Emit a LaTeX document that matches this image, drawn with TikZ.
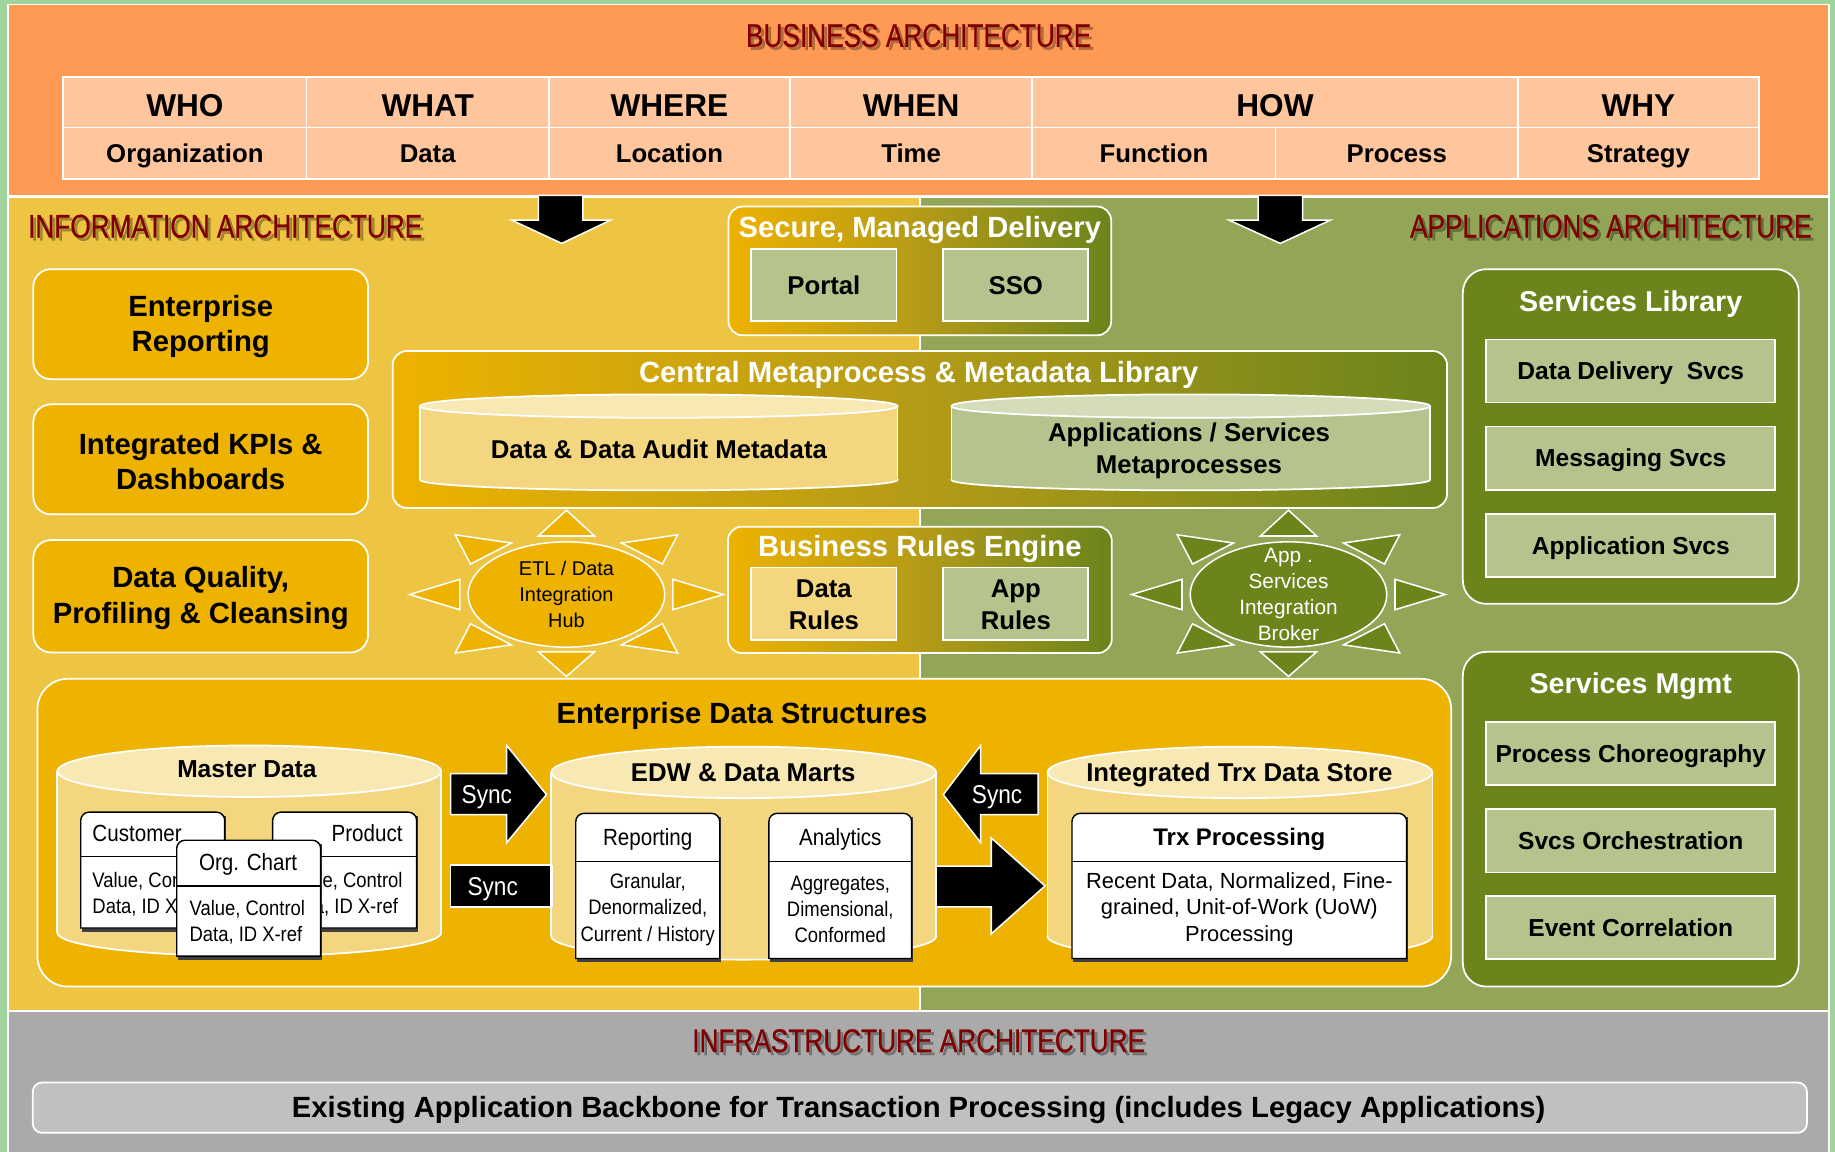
\documentclass[tikz,border=0pt]{standalone}
\usepackage{fontspec}
\setmainfont{Liberation Sans}
\newfontfamily\nar[FakeStretch=0.88]{Liberation Sans}
\newfontfamily\ttl[FakeStretch=0.80,FakeBold=0.6]{Liberation Sans}
\definecolor{cBg}{HTML}{A0D49C}
\definecolor{cOrange}{HTML}{FF9A55}
\definecolor{cPeach}{HTML}{FFC59C}
\definecolor{cYellow}{HTML}{EEC443}
\definecolor{cGreenBg}{HTML}{93A657}
\definecolor{cGold}{HTML}{EEB200}
\definecolor{cOlive}{HTML}{6B841C}
\definecolor{cMid}{HTML}{B49B17}
\definecolor{cLG}{HTML}{B5C48D}
\definecolor{cLGtop}{HTML}{D4DCBA}
\definecolor{cLY}{HTML}{F3D67F}
\definecolor{cLYtop}{HTML}{F8E8B4}
\definecolor{cGray}{HTML}{AAAAAA}
\definecolor{cBar}{HTML}{C0C0C0}
\definecolor{cRed}{HTML}{7F0000}
\tikzset{
  capc/.style={text height=#1, text depth=0pt},
  wb/.style={draw=white, line width=1.5pt},
  goldbox/.style={wb, fill=cGold, rounded corners=15pt},
  olivebox/.style={wb, fill=cOlive, rounded corners=20pt},
  gradbox/.style={wb, rounded corners=12pt, left color=cGold, right color=cOlive, middle color=cMid},
  lgbox/.style={wb, fill=cLG},
  lybox/.style={wb, fill=cLY},
  topcell/.style={draw=white, line width=1.3pt, fill=cPeach, anchor=north west, minimum height=43pt, capc=24.4pt, font=\bfseries\fontsize{27}{30}\selectfont},
  botcell/.style={draw=white, line width=1.3pt, fill=cPeach, anchor=north west, minimum height=44pt, capc=15.8pt, font=\bfseries\fontsize{22}{25}\selectfont},
  redtitle/.style={text=cRed, capc=20pt, font=\ttl\fontsize{28}{30}\selectfont},
  redshadow/.style={text=black, opacity=0.3, capc=20pt, font=\ttl\fontsize{28}{30}\selectfont},
  blkarrow/.style={fill=black, draw=white, line width=1.3pt, line join=miter},
  sunray/.style={fill=#1, draw=white, line width=1.3pt, line join=miter},
  whitetitle/.style={text=white, capc=17.9pt, font=\bfseries\fontsize{25}{28}\selectfont},
  lefttxt/.style={align=center, font=\bfseries\fontsize{25}{30.5}\selectfont},
  boxtxt/.style={align=center, font=\bfseries\fontsize{22}{27}\selectfont},
  svctxt/.style={capc=15pt, font=\bfseries\fontsize{21}{24}\selectfont},
  synctxt/.style={text=white, capc=15.8pt, font=\nar\fontsize{22}{24}\selectfont},
  cardhead/.style={capc=14.3pt, font=\nar\fontsize{20}{23}\selectfont},
  cardbody/.style={align=center, font=\nar\fontsize{17.9}{22.5}\selectfont},
  cardbodyl/.style={align=left, font=\nar\fontsize{17.9}{21.5}\selectfont},
  cardline/.style={capc=12.8pt, font=\nar\fontsize{17.9}{21.5}\selectfont},
  cardframe/.style={fill=white, draw=black, line width=1.2pt},
  cardshadow/.style={fill=black!75},
}
\newcommand\cyl[8]{%
  \pgfmathsetmacro\cycx{(#1+#2)/2}%
  \pgfmathsetmacro\cyrx{(#2-#1)/2}%
  \filldraw[fill=#7, draw=white, line width=1.5pt] (\cycx,#4) ellipse [x radius=\cyrx, y radius=#6];
  \fill[#7] (#1,#3) rectangle (#2,#4);
  \draw[white, line width=1.5pt] (#1,#3) -- (#1,#4) (#2,#3) -- (#2,#4);
  \filldraw[fill=#8, draw=white, line width=1.5pt] (\cycx,#3) ellipse [x radius=\cyrx, y radius=#5];
}
\newcommand\card[5]{%
  \fill[cardshadow] (#1+1,#2+3) rectangle (#3+1,#4+3);
  \filldraw[cardframe] (#1,#4) [rounded corners=7pt] -- (#1,#2) -- (#3,#2) [sharp corners] -- (#3,#4) -- cycle;
  \draw[black, line width=1.2pt] (#1,#5) -- (#3,#5);
}
\newcommand\sunshape[3]{%
  \begin{scope}[shift={(#1,#2)}]
    \filldraw[sunray=#3] (0,-72) -- (24,-50) -- (-24,-50) -- cycle;
    \filldraw[sunray=#3] (0,70) -- (24,49) -- (-24,49) -- cycle;
    \filldraw[sunray=#3] (-134,0) -- (-91,-13) -- (-91,13) -- cycle;
    \filldraw[sunray=#3] (134,0) -- (91,-13) -- (91,13) -- cycle;
    \filldraw[sunray=#3] (-95,-51) -- (-47,-44) -- (-82,-26) -- cycle;
    \filldraw[sunray=#3] (95,-51) -- (47,-44) -- (82,-26) -- cycle;
    \filldraw[sunray=#3] (-95,50) -- (-47,43) -- (-82,25) -- cycle;
    \filldraw[sunray=#3] (95,50) -- (47,43) -- (82,25) -- cycle;
    \filldraw[sunray=#3] (0,0) ellipse [x radius=84, y radius=45];
  \end{scope}}
\begin{document}
\begin{tikzpicture}[x=1pt, y=-1pt, every node/.style={inner sep=0pt, outer sep=0pt}]
\useasboundingbox (0,0) rectangle (1568,984);
\fill[cBg] (0,0) rectangle (1568,984);
% bands
\filldraw[fill=cOrange, draw=white, line width=1.2pt] (7,4) rectangle (1563,167.5);
\filldraw[fill=cYellow, draw=white, line width=1.2pt] (7,168.5) rectangle (786,863.5);
\filldraw[fill=cGreenBg, draw=white, line width=1.2pt] (786,168.5) rectangle (1563,863.5);
\filldraw[fill=cGray, draw=white, line width=1.2pt] (7,864.5) rectangle (1563,995);

% titles
\node[redshadow] (bas) at (787.5,32.5) {BUSINESS ARCHITECTURE};
\node[redtitle] (ba) at (785,30) {BUSINESS ARCHITECTURE};
\node[redshadow, anchor=west] (ias) at (26.5,195.5) {INFORMATION ARCHITECTURE};
\node[redtitle, anchor=west] (ia) at (24,193) {INFORMATION ARCHITECTURE};
\node[redshadow, anchor=east] (aas) at (1550.5,195.5) {APPLICATIONS ARCHITECTURE};
\node[redtitle, anchor=east] (aa) at (1548,193) {APPLICATIONS ARCHITECTURE};
\node[redshadow] (infs) at (787.5,891.5) {INFRASTRUCTURE ARCHITECTURE};
\node[redtitle] (inf) at (785,889) {INFRASTRUCTURE ARCHITECTURE};

% zachman table
\node[topcell, minimum width=208pt] (who) at (54,66) {WHO};
\node[topcell, minimum width=207pt] (what) at (262,66) {WHAT};
\node[topcell, minimum width=206pt] (where) at (469,66) {WHERE};
\node[topcell, minimum width=207pt] (when) at (675,66) {WHEN};
\node[topcell, minimum width=415pt] (how) at (882,66) {HOW};
\node[topcell, minimum width=206pt] (why) at (1297,66) {WHY};
\node[botcell, minimum width=208pt] (org) at (54,109) {Organization};
\node[botcell, minimum width=207pt] (data) at (262,109) {Data};
\node[botcell, minimum width=206pt] (loc) at (469,109) {Location};
\node[botcell, minimum width=207pt] (time) at (675,109) {Time};
\node[botcell, minimum width=208pt] (func) at (882,109) {Function};
\node[botcell, minimum width=207pt] (proc) at (1090,109) {Process};
\node[botcell, minimum width=206pt] (strat) at (1297,109) {Strategy};

% down arrows
\filldraw[blkarrow] (460,167) -- (498,167) -- (498,188) -- (522,188) -- (480,208) -- (437,188) -- (460,188) -- cycle;
\filldraw[blkarrow] (1075,167) -- (1113,167) -- (1113,188) -- (1137,188) -- (1094,208) -- (1050,188) -- (1075,188) -- cycle;

% left column boxes
\node[goldbox, minimum width=286pt, minimum height=94pt] (er) at (171.5,277) {};
\node[lefttxt] (ert) at (171.5,279) {Enterprise\\Reporting};
\node[goldbox, minimum width=286pt, minimum height=94pt] (kpi) at (171.5,392.5) {};
\node[lefttxt] (kpit) at (171.5,394.5) {Integrated KPIs \&\\Dashboards};
\node[goldbox, minimum width=286pt, minimum height=96pt] (dq) at (171.5,509.5) {};
\node[lefttxt] (dqt) at (171.5,511) {Data Quality,\\Profiling \& Cleansing};

% secure managed delivery
\node[gradbox, minimum width=327pt, minimum height=110pt] (smd) at (786,231.5) {};
\node[whitetitle] (smdt) at (786,194) {Secure, Managed Delivery};
\node[lgbox, minimum width=124pt, minimum height=61pt, capc=15.8pt, font=\bfseries\fontsize{22}{25}\selectfont] (portal) at (704,243.5) {Portal};
\node[lgbox, minimum width=124pt, minimum height=61pt, capc=15.8pt, font=\bfseries\fontsize{22}{25}\selectfont] (sso) at (868,243.5) {SSO};

% central metaprocess library
\node[gradbox, minimum width=901pt, minimum height=134pt] (cml) at (786,367) {};
\node[whitetitle] (cmlt) at (785,318) {Central Metaprocess \& Metadata Library};
\cyl{359}{767}{347}{410}{10}{9}{cLY}{cLYtop}
\cyl{813}{1222}{347}{410}{10}{9}{cLG}{cLGtop}
\node[boxtxt, capc=15.8pt] (ddam) at (563,384) {Data \& Data Audit Metadata};
\node[boxtxt] (asm) at (1016,385) {Applications / Services\\Metaprocesses};

% business rules engine
\node[gradbox, minimum width=328pt, minimum height=108pt] (bre) at (786,504) {};
\node[whitetitle] (bret) at (786,466.5) {Business Rules Engine};
\node[lybox, minimum width=124pt, minimum height=62pt] (dr) at (704,516) {};
\node[boxtxt] (drt) at (704,517) {Data\\Rules};
\node[lgbox, minimum width=124pt, minimum height=62pt] (ar) at (868,516) {};
\node[boxtxt] (art) at (868,517) {App\\Rules};

% suns
\sunshape{484}{508}{cGold}
\node[align=center, font=\fontsize{17}{22.5}\selectfont] (etl) at (484,508) {ETL / Data\\Integration\\Hub};
\sunshape{1101}{508}{cOlive}
\node[align=center, text=white, font=\fontsize{17.8}{22.3}\selectfont] (asib) at (1101,508) {App .\\Services\\Integration\\Broker};

% services library / mgmt
\node[olivebox, minimum width=287pt, minimum height=286pt] (sl) at (1393.5,373) {};
\node[text=white, capc=17.5pt, font=\bfseries\fontsize{24.5}{27}\selectfont] (slt) at (1393.5,257) {Services Library};
\node[lgbox, minimum width=247pt, minimum height=54pt, svctxt] (dds) at (1393.5,317) {Data Delivery\ \ Svcs};
\node[lgbox, minimum width=247pt, minimum height=54pt, svctxt] (ms) at (1393.5,391.5) {Messaging Svcs};
\node[lgbox, minimum width=247pt, minimum height=54pt, svctxt] (as) at (1393.5,466) {Application Svcs};
\node[olivebox, minimum width=287pt, minimum height=286pt] (sm) at (1393.5,700) {};
\node[text=white, capc=17.5pt, font=\bfseries\fontsize{24.5}{27}\selectfont] (smt) at (1393.5,584) {Services Mgmt};
\node[lgbox, minimum width=247pt, minimum height=54pt, svctxt] (pc) at (1393.5,644) {Process Choreography};
\node[lgbox, minimum width=247pt, minimum height=54pt, svctxt] (so) at (1393.5,718.5) {Svcs Orchestration};
\node[lgbox, minimum width=247pt, minimum height=54pt, svctxt] (ec) at (1393.5,792.5) {Event Correlation};

% enterprise data structures
\node[goldbox, rounded corners=26pt, minimum width=1208pt, minimum height=263pt] (eds) at (636,711.5) {};
\node[capc=17.9pt, font=\bfseries\fontsize{25}{28}\selectfont] (edst) at (634,609.5) {Enterprise Data Structures};

% sync bar and big arrow (under cylinders)
\filldraw[blkarrow] (480,739) -- (385,739) -- (385,775) -- (480,775);
\filldraw[blkarrow] (790,740) -- (847,740) -- (847,716) -- (893,757) -- (847,798) -- (847,775) -- (790,775) -- cycle;

% cylinders
\cyl{49}{377}{659}{797}{22}{20}{cLY}{cLYtop}
\cyl{471}{800}{660}{800}{22}{20}{cLY}{cLYtop}
\cyl{895}{1224}{660}{800}{22}{20}{cLY}{cLYtop}
\node[capc=15pt, font=\bfseries\fontsize{21}{24}\selectfont] (mdt) at (211,657) {Master Data};
\node[capc=15.8pt, font=\bfseries\fontsize{22}{25}\selectfont] (edwt) at (635,660) {EDW \& Data Marts};
\node[capc=15.8pt, font=\bfseries\fontsize{22}{25}\selectfont] (itdt) at (1059,660) {Integrated Trx Data Store};

% sync arrows
\filldraw[blkarrow] (385,661) -- (433,661) -- (433,637) -- (467,679) -- (433,720) -- (433,696) -- (385,696) -- cycle;
\filldraw[blkarrow] (806,679) -- (838,637) -- (838,661) -- (887,661) -- (887,696) -- (838,696) -- (838,720) -- cycle;
\node[synctxt] (s1) at (416,679) {Sync};
\node[synctxt] (s2) at (421,757) {Sync};
\node[synctxt] (s3) at (852,679) {Sync};
\draw[white, line width=1.3pt] (472,739) -- (472,775);

% master data cards (back cards show only what the front card leaves visible)
\card{69}{694}{192}{793}{732}
\node[cardhead, anchor=west] (cust) at (79,712) {Customer};
\node[cardline, anchor=west] (custb1) at (79,752) {Value, Con};
\node[cardline, anchor=west] (custb2) at (79,774) {Data, ID X};
\card{233}{694}{356}{793}{732}
\node[cardhead, anchor=east] (prod) at (344,712) {Product};
\node[cardline, anchor=east] (prodb1) at (344,752) {e, Control};
\node[cardline, anchor=east] (prodb2) at (340,774) {a, ID X-ref};
\card{151}{718}{274}{817}{757}
\node[cardhead] (orgc) at (212,736.5) {Org. Chart};
\node[cardbodyl, anchor=west] (orgb) at (162,788) {Value, Control\\Data, ID X-ref};

% EDW cards
\card{492}{695}{615}{819}{736}
\node[cardhead] (rep) at (553.5,715) {Reporting};
\node[cardbody] (repb) at (553.5,777) {Granular,\\Denormalized,\\Current / History};
\card{657}{695}{779}{819}{736}
\node[cardhead] (ana) at (718,715) {Analytics};
\node[cardbody] (anab) at (718,777) {Aggregates,\\Dimensional,\\Conformed};

% Trx card
\card{916}{695}{1202}{819}{736}
\node[capc=14.7pt, font=\bfseries\fontsize{20.5}{23}\selectfont] (trx) at (1059,715) {Trx Processing};
\node[align=center, font=\fontsize{18.7}{22.5}\selectfont] (trxb) at (1059,777) {Recent Data, Normalized, Fine-\\grained, Unit-of-Work (UoW)\\Processing};

% infrastructure bar
\node[wb, fill=cBar, rounded corners=8pt, minimum width=1516pt, minimum height=43pt] (bar) at (786,946.5) {};
\node[capc=17.9pt, font=\bfseries\fontsize{25}{27}\selectfont] (bart) at (785,946) {Existing Application Backbone for Transaction Processing (includes Legacy Applications)};
\end{tikzpicture}
\end{document}
